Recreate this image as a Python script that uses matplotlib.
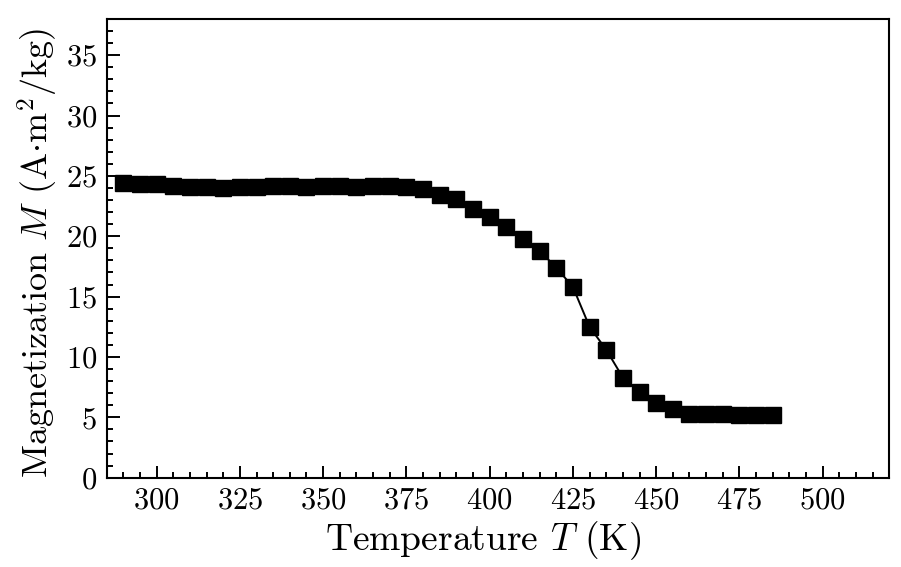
import matplotlib
matplotlib.use("Agg")
import matplotlib.pyplot as plt
from matplotlib.ticker import MultipleLocator

# Computer Modern look
plt.rcParams["font.family"] = "serif"
plt.rcParams["font.serif"] = ["cmr10"]
plt.rcParams["mathtext.fontset"] = "cm"
plt.rcParams["axes.formatter.use_mathtext"] = True
plt.rcParams["axes.unicode_minus"] = False

# data
temperature = [290, 295, 300, 305, 310, 315, 320, 325, 330, 335,
               340, 345, 350, 355, 360, 365, 370, 375, 380, 385,
               390, 395, 400, 405, 410, 415, 420, 425, 430, 435,
               440, 445, 450, 455, 460, 465, 470, 475, 480, 485]
magnetization = [24.4, 24.3, 24.3, 24.2, 24.1, 24.1, 24.0, 24.1, 24.1, 24.2,
                 24.2, 24.1, 24.2, 24.2, 24.1, 24.2, 24.2, 24.1, 23.9, 23.4,
                 23.1, 22.3, 21.6, 20.8, 19.8, 18.8, 17.4, 15.8, 12.5, 10.6,
                 8.3, 7.1, 6.2, 5.7, 5.3, 5.3, 5.3, 5.2, 5.2, 5.2]

fig = plt.figure(figsize=(9.01, 5.67), dpi=100)
ax = fig.add_axes([0.1184, 0.1575, 0.8686, 0.809])

ax.plot(temperature, magnetization, color="black", linewidth=1.4,
        marker="s", markersize=11, markerfacecolor="black",
        markeredgecolor="black")

ax.set_xlim(285, 520)
ax.set_ylim(0, 38)
ax.xaxis.set_major_locator(MultipleLocator(25))
ax.xaxis.set_minor_locator(MultipleLocator(5))
ax.yaxis.set_major_locator(MultipleLocator(5))
ax.yaxis.set_minor_locator(MultipleLocator(1))

ax.tick_params(which="both", direction="in", top=False, right=False,
               labelsize=22, width=1.4)
ax.tick_params(which="major", length=9, pad=7)
ax.tick_params(which="minor", length=4.5)
for s in ax.spines.values():
    s.set_linewidth(1.5)

ax.set_xlabel(r"Temperature $T$ (K)", fontsize=27)
ax.set_ylabel(r"Magnetization $M$ (A$\cdot$m$^2$/kg)", fontsize=26)
ax.xaxis.set_label_coords(0.481, -0.09)
ax.yaxis.set_label_coords(-0.06, 0.49)

fig.savefig("out.png", dpi=100)
plt.close(fig)
